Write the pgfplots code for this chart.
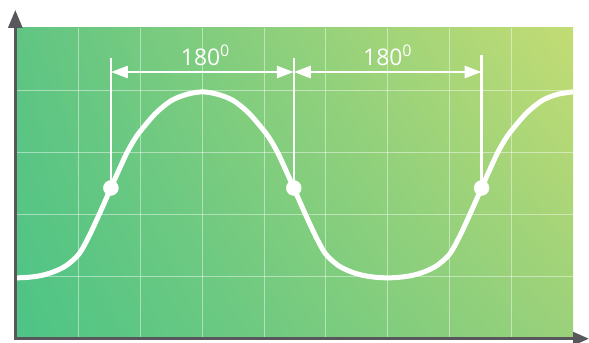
\documentclass[border=0pt]{standalone}
\usepackage{fontspec}
\setmainfont{Open Sans}
\usepackage{pgfplots}
\pgfplotsset{compat=1.18}
\usetikzlibrary{arrows.meta,shadings}
\definecolor{axisgray}{RGB}{88,88,92}
\definecolor{cLL}{HTML}{4DC486}
\definecolor{cUL}{HTML}{60C583}
\definecolor{cUR}{HTML}{C3DC74}
\definecolor{cLR}{HTML}{9AD17A}
\begin{document}
\begin{tikzpicture}
\begin{axis}[
  scale only axis,
  width=556bp, height=310bp,
  xmin=0, xmax=9, ymin=0, ymax=5,
  xtick={1,2,3,4,5,6,7,8}, ytick={1,2,3,4},
  xticklabel=\empty, yticklabel=\empty,
  grid=major,
  major grid style={draw=white, opacity=0.45, line width=0.9bp},
  axis line style={draw=none},
  tick style={draw=none},
  axis background/.style={shade, lower left=cLL, upper left=cUL, upper right=cUR, lower right=cLR},
  clip=true,
]
\addplot[white, line width=5bp, smooth, no marks] coordinates {
(0,0.97) (0.2,0.98) (0.4,1.01) (0.6,1.07) (0.8,1.17) (1.0,1.35) (1.15,1.61) (1.32,1.97) (1.52,2.42) (1.65,2.71) (1.78,2.99) (1.9,3.2) (2.0,3.34) (2.25,3.63) (2.5,3.83) (2.75,3.93)
(3,3.97) (3.25,3.93) (3.5,3.83) (3.75,3.63) (4.0,3.34) (4.1,3.2) (4.22,2.99) (4.35,2.71) (4.48,2.42) (4.68,1.97) (4.85,1.61) (5.0,1.35) (5.2,1.17) (5.4,1.07) (5.6,1.01) (5.8,0.98)
(6,0.97) (6.2,0.98) (6.4,1.01) (6.6,1.07) (6.8,1.17) (7.0,1.35) (7.15,1.61) (7.32,1.97) (7.52,2.42) (7.65,2.71) (7.78,2.99) (7.9,3.2) (8.0,3.34) (8.25,3.63) (8.5,3.83) (8.75,3.93) (9,3.97)
};
\addplot[only marks, mark=*, mark size=7.5bp, white, mark options={fill=white, draw=white}] coordinates {(1.52,2.42) (4.48,2.42) (7.52,2.42)};
% dimension lines
\draw[white, line width=2.2bp] (axis cs:1.52,4.52) -- (axis cs:1.52,2.42);
\draw[white, line width=2.2bp] (axis cs:4.48,4.52) -- (axis cs:4.48,2.42);
\draw[white, line width=2.2bp] (axis cs:7.52,4.56) -- (axis cs:7.52,2.42);
\draw[white, line width=2.7bp, {Triangle[length=17bp,width=12bp]}-{Triangle[length=17bp,width=12bp]}] (axis cs:1.52,4.29) -- (axis cs:4.48,4.29);
\draw[white, line width=2.7bp, {Triangle[length=17bp,width=12bp]}-{Triangle[length=17bp,width=12bp]}] (axis cs:4.48,4.29) -- (axis cs:7.52,4.29);
\node[white, anchor=base, inner sep=0pt, font=\fontsize{23}{27}\selectfont] at (axis cs:3.05,4.39) {180\textsuperscript{0}};
\node[white, anchor=base, inner sep=0pt, font=\fontsize{23}{27}\selectfont] at (axis cs:6.0,4.39) {180\textsuperscript{0}};
\end{axis}
\draw[axisgray, line width=3bp, -{Triangle[length=18bp,width=14bp]}] ([shift={(-1.7bp,-2.2bp)}]current axis.south west) -- ([shift={(-1.7bp,328bp)}]current axis.south west);
\draw[axisgray, line width=3bp, -{Triangle[length=16bp,width=13bp]}] ([shift={(-3.2bp,-0.7bp)}]current axis.south west) -- ([shift={(572bp,-0.7bp)}]current axis.south west);
\pgfresetboundingbox
\path ([shift={(-17bp,-5bp)}]current axis.south west) rectangle ([shift={(16bp,28bp)}]current axis.north east);
\end{tikzpicture}
\end{document}
